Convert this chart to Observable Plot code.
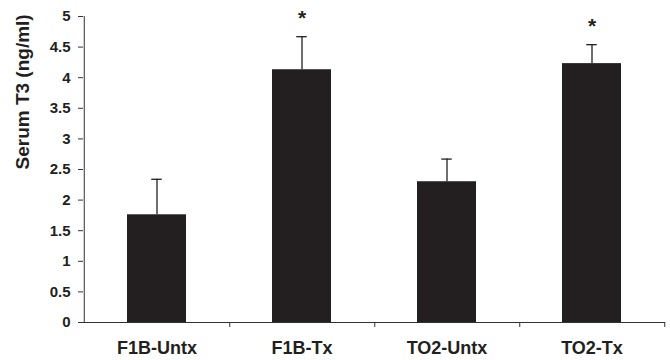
<!DOCTYPE html>
<html>
<head>
<meta charset="utf-8">
<script src="https://cdn.jsdelivr.net/npm/d3@7"></script>
<script src="https://cdn.jsdelivr.net/npm/@observablehq/plot@0.6"></script>
<style>
  html, body { margin: 0; padding: 0; background: #fff; }
  svg { font-family: "Liberation Sans", Arial, sans-serif; }
</style>
</head>
<body>
<div id="chart"></div>
<script>
const categories = ["F1B-Untx", "F1B-Tx", "TO2-Untx", "TO2-Tx"];
const means = [1.76, 4.13, 2.30, 4.23];
const errorTops = [2.34, 4.67, 2.67, 4.54];
const significant = [false, true, false, true];
const yTicks = [0, 0.5, 1, 1.5, 2, 2.5, 3, 3.5, 4, 4.5, 5];
const yLabel = "Serum T3 (ng/ml)";

const data = categories.map((c, i) => ({cat: c, mean: means[i], top: errorTops[i], sig: significant[i]}));

const W = 670, H = 360, mL = 83, mR = 5, mT = 16, mB = 38;
const half = (W - mL - mR) / categories.length / 2;

const chart = Plot.plot({
  width: W, height: H,
  marginLeft: mL, marginRight: mR, marginTop: mT, marginBottom: mB,
  style: {fontFamily: "'Liberation Sans', Arial, sans-serif", background: "white", color: "#231f20"},
  x: {domain: categories, padding: 0, axis: null},
  y: {domain: [0, 5], axis: null},
  marks: [
    Plot.barY(data, {x: "cat", y: "mean", fill: "#231f20", insetLeft: 43, insetRight: 43}),
    Plot.ruleX(data, {x: "cat", y1: "mean", y2: "top", stroke: "#231f20", strokeWidth: 1.3}),
    Plot.tickY(data, {x: "cat", y: "top", stroke: "#231f20", strokeWidth: 1.3, insetLeft: half - 5.5, insetRight: half - 5.5}),
    Plot.text(data.filter(d => d.sig), {x: "cat", y: "top", text: () => "*", dy: -18, fontSize: 21, fontWeight: "bold", fill: "#231f20"}),
    Plot.ruleY([0], {stroke: "#333", strokeWidth: 1}),
    Plot.ruleX([categories[0]], {dx: -half, y1: 0, y2: 5, stroke: "#333", strokeWidth: 1}),
    Plot.axisY(yTicks, {tickSize: 5, tickFormat: () => "", label: null, stroke: "#333"}),
    Plot.text(yTicks, {y: d => d, frameAnchor: "left", text: d => String(d), dx: -13, textAnchor: "end", fontSize: 15, fontWeight: "bold", fill: "#231f20"}),
    Plot.axisX({tickSize: 5, tickFormat: () => "", dx: half, label: null, stroke: "#333"}),
    Plot.axisX({tickSize: 0, tickPadding: 19, fontSize: 18, fontWeight: "bold", label: null}),
    Plot.text([yLabel], {frameAnchor: "left", rotate: -90, dx: -61, fontSize: 19, fontWeight: "bold", fill: "#231f20"})
  ]
});
document.getElementById("chart").appendChild(chart);
</script>
</body>
</html>
